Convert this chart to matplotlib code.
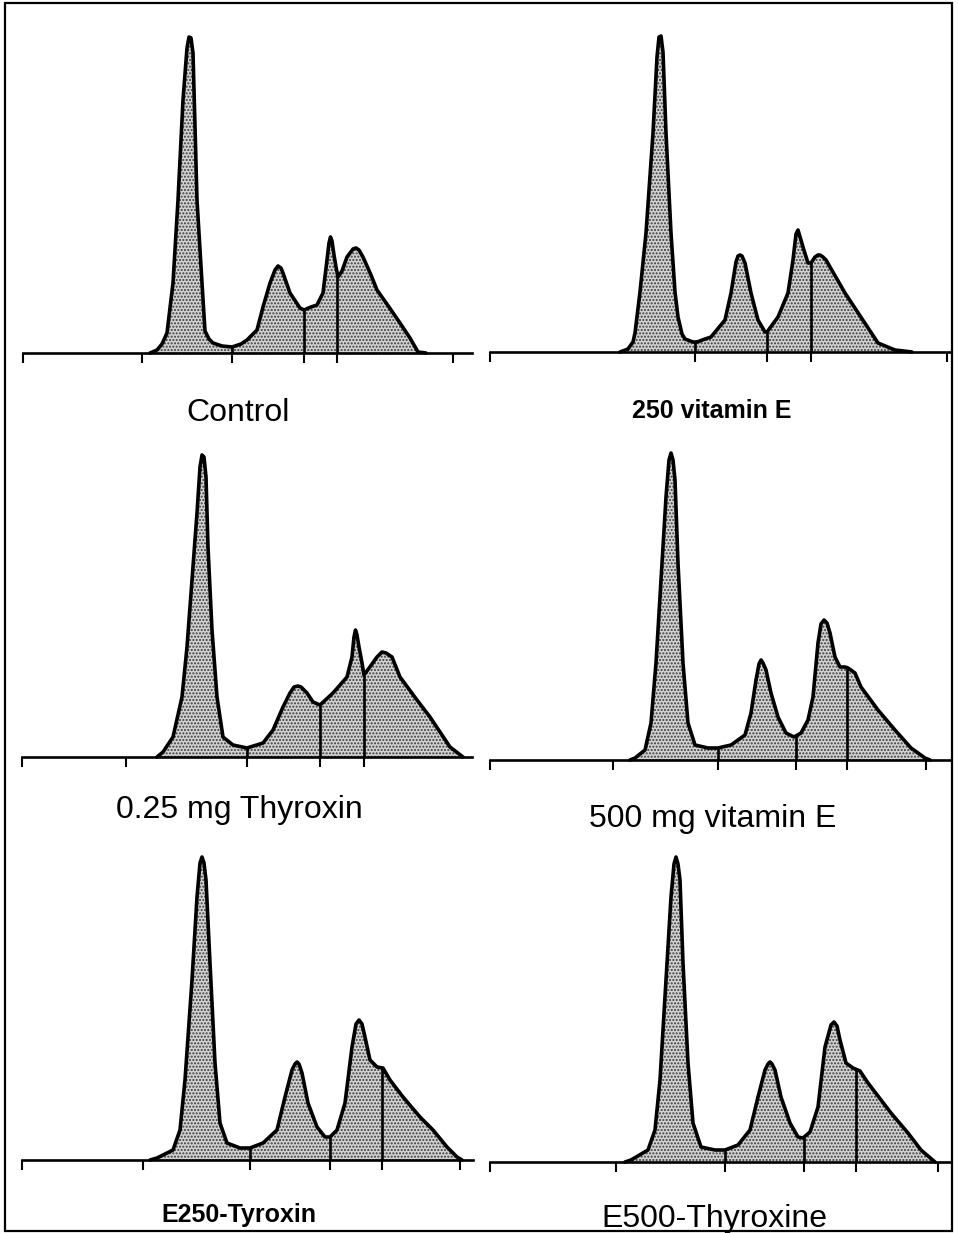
import matplotlib as mpl
mpl.use('Agg')
import matplotlib.pyplot as plt
from matplotlib.patches import Rectangle
import numpy as np

# densitometric scans, migration distance (px units of the scan) vs optical density
control_x = [127, 134, 139, 144, 150, 155, 160, 164, 166, 168, 170, 174, 179, 182, 186, 190, 199, 209,
             218, 224, 234, 240, 247, 252, 255, 258, 260, 267, 277, 281, 288, 294, 300, 304, 306,
             307.5, 309, 311, 313, 315, 319, 324, 330, 333, 336, 340, 348, 354, 366, 377, 387, 395, 403]
control_y = [0, 3, 9, 20, 70, 153, 253, 305, 316, 315, 300, 153, 70, 22, 14, 10, 7, 6,
             9, 13, 23, 46, 70, 83, 87, 85, 80, 60, 45, 43, 46, 48, 60, 93, 110,
             116, 112, 98, 86, 76, 82, 96, 104, 105, 103, 96, 78, 63, 46, 30, 15, 1, 0]

vitE250_x = [130, 138, 143, 145, 150, 156, 163, 167, 169, 171, 173, 176, 181, 185, 188, 192, 195, 203,
             207, 215, 221, 235, 241, 246, 248, 250, 252, 255, 261, 268, 275, 277, 288, 298, 303,
             306, 308, 313, 318, 321, 325, 328, 330, 333, 336, 355, 388, 405, 422]
vitE250_y = [0, 3, 10, 19, 60, 119, 219, 295, 315, 316, 300, 219, 119, 60, 35, 18, 13, 10,
             10, 13, 15, 32, 59, 90, 96, 97, 96, 89, 59, 32, 20, 20, 35, 59, 92,
             118, 122, 105, 89, 89, 95, 97, 97, 95, 92, 59, 9, 2, 0]

thyr025_x = [135, 141, 151, 160, 165, 170, 175, 178, 180, 182, 184, 186, 190, 195, 201, 211, 225, 241,
             251, 261, 268, 272, 276, 279, 285, 291, 298, 311, 325, 330, 332, 333.5, 335, 337, 340,
             342, 350, 355, 360, 364, 370, 378, 395, 408, 428, 441]
thyr025_y = [0, 5, 20, 60, 110, 177, 244, 290, 302, 300, 280, 210, 127, 60, 20, 12, 9, 14,
             27, 50, 64, 70, 71, 70, 64, 55, 52, 64, 80, 100, 120, 127, 122, 110, 94,
             82, 93, 100, 105, 104, 100, 80, 57, 40, 10, 0]

vitE500_x = [140, 145, 155, 161, 166, 171, 176, 179, 181, 183, 185, 188, 193, 198, 205, 218, 228, 241,
             255, 261, 266, 269, 271, 273, 276, 281, 288, 296, 304, 311, 318, 323, 328, 331, 334,
             337, 340, 345, 350, 355, 358, 365, 371, 388, 405, 421, 435, 440]
vitE500_y = [0, 2, 10, 37, 97, 180, 263, 300, 307, 300, 280, 197, 97, 37, 15, 12, 12, 15,
             25, 47, 80, 96, 100, 97, 90, 67, 43, 27, 23, 27, 40, 63, 117, 136, 140,
             137, 127, 103, 93, 93, 92, 87, 73, 50, 30, 12, 2, 0]

e250_x = [128, 135, 151, 158, 163, 170, 175, 178, 180, 182, 184, 188, 193, 198, 205, 218, 228, 241,
          255, 263, 270, 273, 275, 277, 280, 286, 295, 303, 308, 315, 323, 330, 334, 337, 340,
          343, 348, 355, 361, 368, 381, 398, 411, 425, 435, 440]
e250_y = [0, 2, 10, 30, 80, 180, 263, 297, 303, 297, 280, 197, 97, 37, 17, 12, 12, 17,
          30, 63, 90, 96, 98, 96, 87, 57, 33, 23, 23, 30, 57, 113, 136, 140, 136,
          123, 100, 93, 92, 80, 63, 43, 30, 13, 3, 0]

e500_x = [135, 141, 158, 165, 170, 176, 181, 184, 186, 188, 190, 193, 198, 203, 211, 225, 235, 248,
          260, 268, 275, 278, 280, 282, 285, 291, 300, 308, 313, 320, 328, 335, 341, 344, 347,
          350, 356, 363, 370, 378, 401, 418, 431, 445]
e500_y = [0, 2, 12, 32, 82, 182, 265, 298, 305, 298, 282, 199, 99, 39, 15, 12, 12, 17,
          32, 65, 92, 98, 100, 98, 92, 65, 39, 25, 24, 30, 55, 115, 137, 140, 136,
          122, 99, 94, 91, 79, 49, 29, 12, 0]

# fraction boundaries and axis ticks
control_div = [209, 281, 314]
vitE250_div = [205, 277, 321]
thyr025_div = [225, 298, 342]
vitE500_div = [228, 306, 357]
e250_div = [228, 308, 360]
e500_div = [235, 314, 366]

control_ticks = [0, 119, 209, 281, 314, 430]
vitE250_ticks = [0, 205, 277, 321, 457]
thyr025_ticks = [0, 104, 225, 298, 342]
vitE500_ticks = [0, 123, 228, 306, 357, 436]
e250_ticks = [0, 121, 228, 308, 360, 438]
e500_ticks = [0, 126, 235, 314, 366, 448]

labels = ["Control", "250 vitamin E", "0.25 mg Thyroxin",
          "500 mg vitamin E", "E250-Tyroxin", "E500-Thyroxine"]

W, H = 958, 1233
fig = plt.figure(figsize=(W / 100, H / 100), dpi=100)
fig.patch.set_facecolor('white')
plt.rcParams['hatch.linewidth'] = 1.0

# frame round the whole plate
fig.patches.append(Rectangle((5 / W, 1 - 1231 / H), 947 / W, 1228 / H, transform=fig.transFigure,
                             fill=False, edgecolor='black', linewidth=1.6))

panels = [
    (control_x, control_y, control_div, control_ticks, 23, 353, 449),
    (vitE250_x, vitE250_y, vitE250_div, vitE250_ticks, 490, 352, 461),
    (thyr025_x, thyr025_y, thyr025_div, thyr025_ticks, 22, 757, 450),
    (vitE500_x, vitE500_y, vitE500_div, vitE500_ticks, 490, 760, 461),
    (e250_x, e250_y, e250_div, e250_ticks, 22, 1160, 451),
    (e500_x, e500_y, e500_div, e500_ticks, 490, 1162, 461),
]
top = 330

for xs, ys, divs, ticks, left, base, length in panels:
    ax = fig.add_axes([left / W, 1 - base / H, length / W, top / H])
    ax.patch.set_visible(False)
    xs = np.array(xs, dtype=float)
    ys = np.array(ys, dtype=float)
    ax.fill_between(xs, 0, ys, facecolor='#d2d2d2', edgecolor='#3c3c3c', hatch='.....', linewidth=0)
    ax.plot(xs, ys, color='black', lw=2.6, solid_joinstyle='round', solid_capstyle='round', clip_on=False)
    for d in divs:
        ax.vlines(d, 0, np.interp(d, xs, ys), color='black', lw=1.9)
    ax.set_xlim(0, length)
    ax.set_ylim(0, top)
    for s in ['left', 'right', 'top']:
        ax.spines[s].set_visible(False)
    ax.spines['bottom'].set_linewidth(1.9)
    ax.set_xticks(ticks)
    ax.set_yticks([])
    ax.tick_params(axis='x', direction='out', length=7, width=1.5, labelbottom=False)

font = ['Liberation Sans', 'DejaVu Sans']
# label, centre x, baseline y, size, weight
label_pos = [(238, 421, 23, 'normal'), (712, 418, 18, 'bold'),
             (239, 818, 23, 'normal'), (713, 827, 23, 'normal'),
             (239, 1222, 18, 'bold'), (714, 1227, 23, 'normal')]
for text, (cx, by, size, weight) in zip(labels, label_pos):
    fig.text(cx / W, 1 - by / H, text, ha='center', va='baseline', fontsize=size,
             fontweight=weight, family=font)

plt.savefig('out.png', dpi=100)
